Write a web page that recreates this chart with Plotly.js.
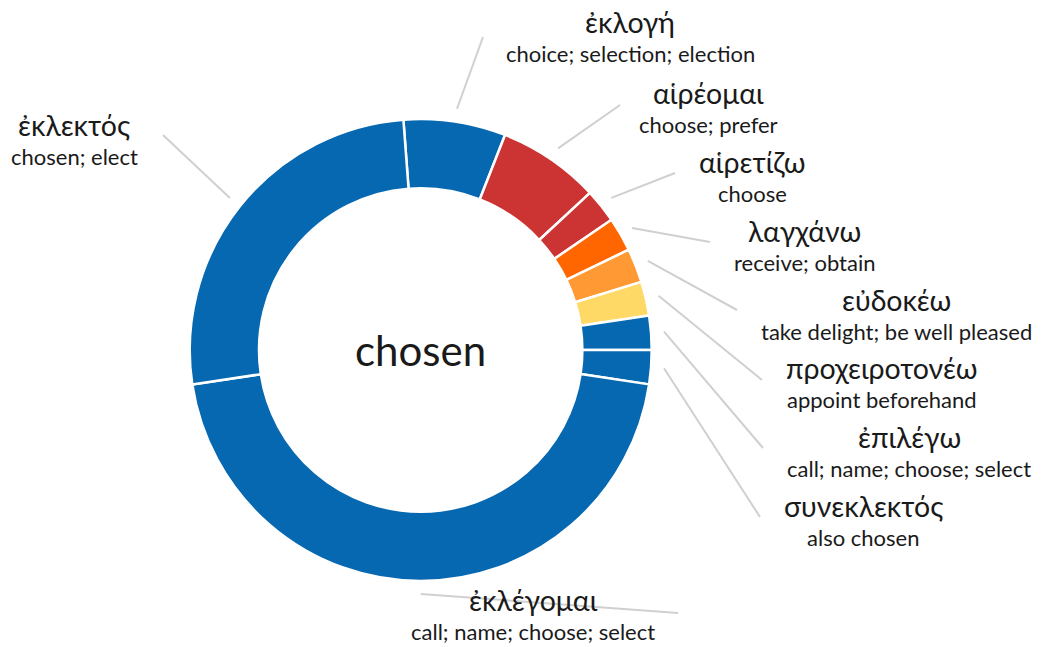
<!DOCTYPE html>
<html><head><meta charset="utf-8">
<script src="https://cdn.plot.ly/plotly-3.0.1.min.js"></script>
<style>html,body{margin:0;padding:0;background:#fff;overflow:hidden}</style>
</head><body><div id="chart" style="width:1046px;height:647px"></div>
<script>
// ---- data ----
const lemmas = ['ἐκλογή','αἱρέομαι','αἱρετίζω','λαγχάνω','εὐδοκέω','προχειροτονέω','ἐπιλέγω','συνεκλεκτός','ἐκλέγομαι','ἐκλεκτός'];
const glosses = ['choice; selection; election','choose; prefer','choose','receive; obtain','take delight; be well pleased','appoint beforehand','call; name; choose; select','also chosen','call; name; choose; select','chosen; elect'];
const counts = [3,3,1,1,1,1,1,1,19,11];
const sliceColors = ['#0668b1','#cc3333','#cc3333','#ff6600','#ff9933','#ffd966','#0668b1','#0668b1','#0668b1','#0668b1'];
const centerLabel = 'chosen';

// ---- layout / style ----
const W = 1046, H = 647, CX = 420.7, CY = 350, R = 231, HOLE = 0.7, ROT = -4.3;
const labelPos = [[630,22],[708,93],[752,162],[804,231],[896,300],[882,368],[909,437],[863,506],[533,600],[74,125]];
const lineEnd = [[483,37],[620,105],[675,173],[710,242],[737,310],[762,380],[763,448],[760,517],[678,613],[163,135]];
const GLOSS_DY = 31;
const FONT = 'Lato, "Noto Sans", sans-serif';

const total = counts.reduce((a,b)=>a+b,0);
let cum = 0;
const lineTraces = [];
counts.forEach((c,i)=>{
  const mid = (ROT + 360*(cum + c/2)/total) * Math.PI/180;
  cum += c;
  const r0 = R + 13;
  const x0 = CX + r0*Math.sin(mid), y0 = CY - r0*Math.cos(mid);
  lineTraces.push({type:'scatter', mode:'lines', x:[x0, lineEnd[i][0]], y:[y0, lineEnd[i][1]],
    line:{color:'#d0d0d0', width:2}, hoverinfo:'skip', showlegend:false});
});

const pie = {
  type:'pie', labels: lemmas, values: counts, sort:false, direction:'clockwise', rotation: ROT,
  hole: HOLE, marker:{colors: sliceColors, line:{color:'#ffffff', width:2.5}},
  textinfo:'none', hoverinfo:'label+value', showlegend:false,
  domain:{x:[(CX-R)/W,(CX+R)/W], y:[(H-CY-R)/H,(H-CY+R)/H]}
};

const annotations = [];
lemmas.forEach((l,i)=>{
  annotations.push({x:labelPos[i][0], y:labelPos[i][1], xref:'x', yref:'y', text:l, showarrow:false,
    xanchor:'center', yanchor:'middle', font:{family:FONT, size:28.5, color:'#1a1a1a'}});
  annotations.push({x:labelPos[i][0], y:labelPos[i][1]+GLOSS_DY, xref:'x', yref:'y', text:glosses[i], showarrow:false,
    xanchor:'center', yanchor:'middle', font:{family:FONT, size:22, color:'#1a1a1a'}});
});
annotations.push({x:CX, y:CY, xref:'x', yref:'y', text:centerLabel, showarrow:false,
  xanchor:'center', yanchor:'middle', font:{family:FONT, size:42, color:'#1a1a1a'}});

const layout = {
  width:W, height:H, margin:{l:0,r:0,t:0,b:0}, paper_bgcolor:'#fff', plot_bgcolor:'rgba(0,0,0,0)',
  xaxis:{range:[0,W], visible:false, fixedrange:true},
  yaxis:{range:[H,0], visible:false, fixedrange:true},
  annotations: annotations, showlegend:false
};
Plotly.newPlot('chart', [pie].concat(lineTraces), layout, {staticPlot:true});
</script></body></html>
